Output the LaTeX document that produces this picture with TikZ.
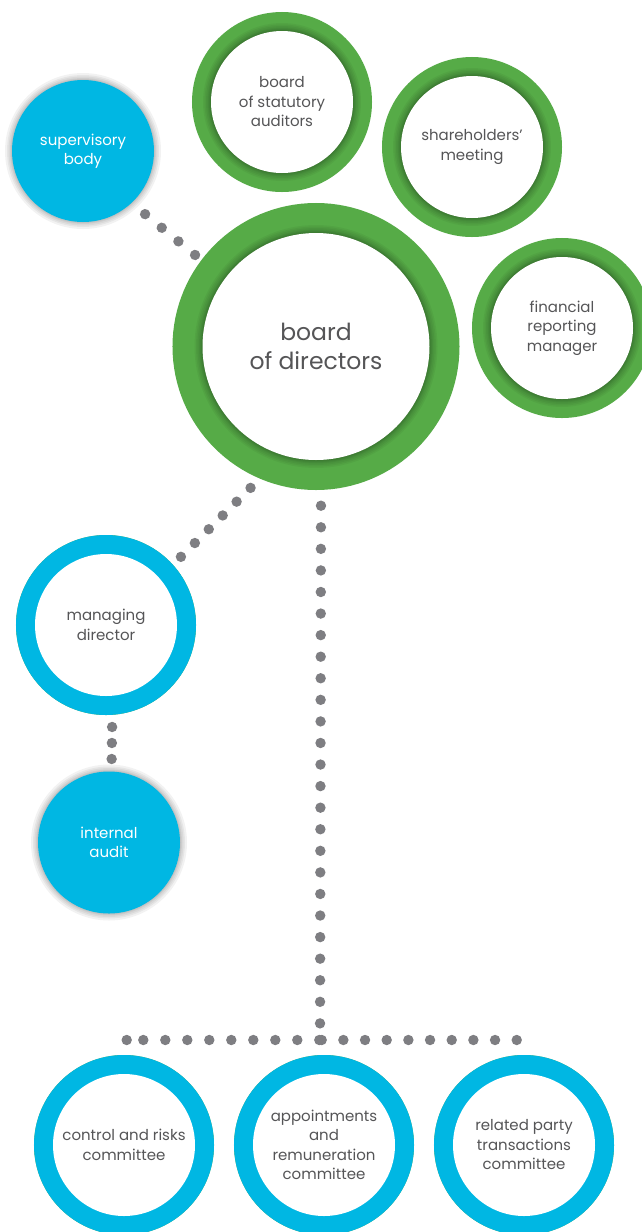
\documentclass[tikz,border=0pt]{standalone}
\usepackage{fontspec}
\setmainfont{Poppins}
\usetikzlibrary{decorations.markings}
\definecolor{cgreen}{HTML}{56AB47}
\definecolor{cblue}{HTML}{00B7E3}
\definecolor{dotgray}{HTML}{7E7E82}
\definecolor{tgray}{HTML}{555557}
\tikzset{
  innershadow/.style={
    preaction={draw=black,opacity=.045,line width=16pt},
    preaction={draw=black,opacity=.045,line width=13pt},
    preaction={draw=black,opacity=.045,line width=10pt},
    preaction={draw=black,opacity=.045,line width=7pt},
    preaction={draw=black,opacity=.045,line width=5pt},
    preaction={draw=black,opacity=.045,line width=3pt},
    preaction={draw=black,opacity=.045,line width=1.5pt}},
  outershadow/.style={
    preaction={draw=black,opacity=.05,line width=14pt},
    preaction={draw=black,opacity=.05,line width=10pt},
    preaction={draw=black,opacity=.05,line width=7pt},
    preaction={draw=black,opacity=.05,line width=4pt},
    preaction={draw=black,opacity=.05,line width=2pt}},
  ringnode/.style n args={3}{circle, inner sep=0pt, outer sep=#3, fill=white, minimum size=#1,
    preaction={draw=cgreen,line width=#2}, innershadow,
    text=tgray, align=center, font=\fontsize{15}{19.5}\selectfont},
  greenring/.style={ringnode={142pt}{38pt}{19pt}},
  bluering/.style={ringnode={142pt}{38pt}{19pt}, preaction={draw=cblue,line width=38pt}},
  bluedisc/.style={circle, inner sep=0pt, minimum size=142pt, outershadow, fill=cblue,
    text=white, align=center, font=\fontsize{15}{19.5}\selectfont},
  dotted row/.style 2 args={decorate, decoration={markings,
    mark=between positions #1 and 1 step #2 with {\fill[dotgray] (0,0) circle (5.2pt);}}},
}
\begin{document}
\begin{tikzpicture}[x=1pt,y=-1pt]
\useasboundingbox (0,0) rectangle (642,1232);
\clip (0,0) rectangle (642,1232);
\fill[white] (0,0) rectangle (642,1232);
% nodes
\node[ringnode={227pt}{60pt}{30pt}, font=\fontsize{23.5}{29}\selectfont] (bod) at (316,346.5) {board\\of directors};
\node[greenring] (bsa) at (282,102) {board\\of statutory\\auditors};
\node[greenring] (shm) at (472,147) {shareholders’\\meeting};
\node[greenring] (frm) at (562,328) {financial\\reporting\\manager};
\node[bluedisc] (sb) at (83,151) {supervisory\\body};
\node[bluering] (md) at (106,625) {managing\\director};
\node[bluedisc] (ia) at (109,842.5) {internal\\audit};
\node[bluering] (crc) at (124,1145) {control and risks\\committee};
\node[bluering] (arc) at (324,1145) {appointments\\and\\remuneration\\committee};
\node[bluering] (rpt) at (524,1145) {related party\\transactions\\committee};
% junction coordinates
\coordinate (junc) at (320,1040);
\coordinate (rowL) at (126.7,1040);
\coordinate (rowR) at (517.5,1040);
% connectors
\path[dotted row={17.5pt}{21.5pt}] (sb.-47) -- (bod.143);
\path[dotted row={13.2pt}{19.6pt}] (bod.-113) -- (md.42);
\path[dotted row={12.2pt}{16pt}] (md.-86) -- (ia.88);
\path[dotted row={15.8pt}{21.57pt}] (bod.-88.4) -- (junc);
\path[dotted row={0.7pt}{22pt}] (junc) -- (rowL);
\path[decorate, decoration={markings, mark=at position 1 with {\fill[dotgray] (0,0) circle (5.2pt);}}] (junc) -- (rowL);
\path[dotted row={1.7pt}{21.67pt}] (junc) -- (rowR);
\end{tikzpicture}
\end{document}
